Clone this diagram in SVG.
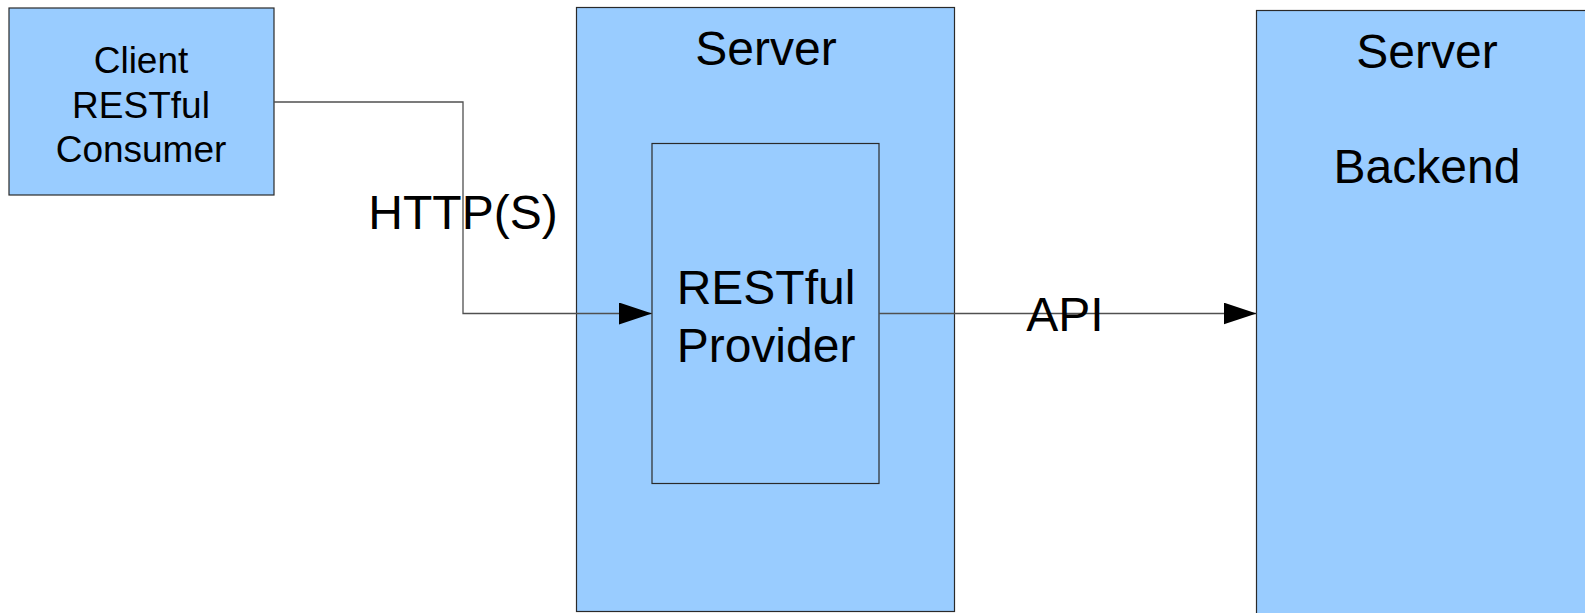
<svg xmlns="http://www.w3.org/2000/svg" width="1585" height="613" viewBox="0 0 1585 613">
  <style>
    .box { fill: #99ccff; stroke: #2a2a2a; stroke-width: 1.2; }
    .conn { fill: none; stroke: #505050; stroke-width: 1.3; }
    .lbl { font-family: "Liberation Sans", Arial, sans-serif; fill: #000; text-anchor: middle; }
    .big { font-size: 48px; }
    .small { font-size: 37px; }
  </style>
  <defs>
    <marker id="arrow" markerUnits="userSpaceOnUse" markerWidth="34" markerHeight="22" refX="33" refY="11" orient="auto">
      <path d="M0,0 L33,11 L0,22 Z" fill="#000"/>
    </marker>
  </defs>
  <rect width="1585" height="613" fill="#ffffff"/>

  <g id="client">
    <rect class="box" x="9" y="8" width="265" height="187"/>
    <text class="lbl small" x="141" y="73">Client</text>
    <text class="lbl small" x="141" y="117.5">RESTful</text>
    <text class="lbl small" x="141" y="162">Consumer</text>
  </g>

  <g id="server1">
    <rect class="box" x="576.5" y="7.5" width="378" height="604"/>
    <text class="lbl big" x="766" y="65">Server</text>
  </g>

  <g id="provider">
    <rect class="box" x="652" y="143.5" width="227" height="340"/>
    <text class="lbl big" x="766" y="304">RESTful</text>
    <text class="lbl big" x="766" y="362">Provider</text>
  </g>

  <g id="server2">
    <rect class="box" x="1256.5" y="10.5" width="345" height="610"/>
    <text class="lbl big" x="1427" y="68">Server</text>
    <text class="lbl big" x="1427" y="183">Backend</text>
  </g>

  <g id="connectors">
    <path class="conn" d="M274,102 H463 V313.5 H652" marker-end="url(#arrow)"/>
    <path class="conn" d="M879,313.5 H1256.5" marker-end="url(#arrow)"/>
    <text class="lbl big" x="463" y="229">HTTP(S)</text>
    <text class="lbl big" x="1065" y="331">API</text>
  </g>
</svg>
